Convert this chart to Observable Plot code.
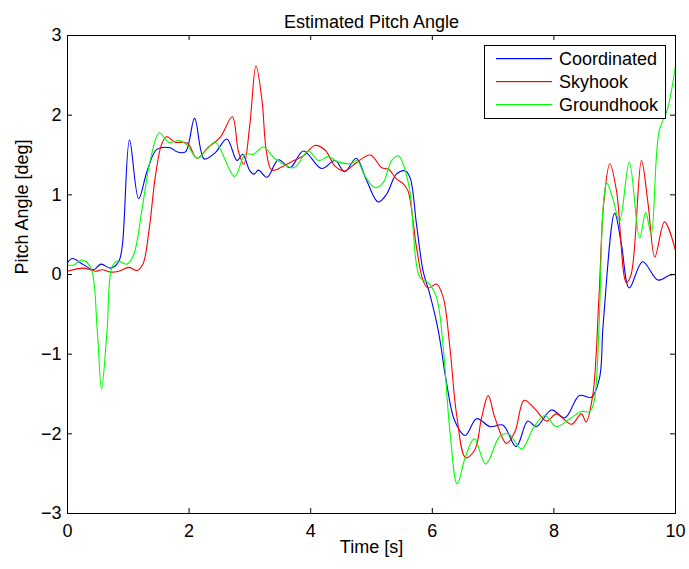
<!DOCTYPE html>
<html><head><meta charset="utf-8">
<script src="https://cdn.jsdelivr.net/npm/d3@7"></script>
<script src="https://cdn.jsdelivr.net/npm/@observablehq/plot@0.6"></script>
<style>body{margin:0;background:#fff} svg{display:block}</style>
</head><body><div id="chart"></div>
<script>
const chartTitle = "Estimated Pitch Angle";
const xLabel = "Time [s]";
const yLabel = "Pitch Angle [deg]";
const seriesNames = ["Coordinated", "Skyhook", "Groundhook"];
const seriesColors = ["#0000ff", "#ff0000", "#00ff00"];
const xTicks = [0, 2, 4, 6, 8, 10];
const yTicks = [-3, -2, -1, 0, 1, 2, 3];

const coordinatedT = [0,0.08,0.25,0.43,0.55,0.71,0.84,0.90,1.02,1.17,1.31,1.47,1.69,1.80,1.94,2.09,2.25,2.43,2.62,2.79,2.88,3.0,3.07,3.14,3.28,3.47,3.66,3.88,4.18,4.40,4.56,4.75,4.92,5.11,5.25,5.41,5.56,5.64,5.74,5.85,5.96,6.10,6.23,6.37,6.54,6.73,6.95,7.16,7.38,7.57,7.71,7.96,8.18,8.42,8.62,8.75,8.81,9.00,9.11,9.24,9.46,9.71,9.90,10];
const coordinatedV = [0.15,0.20,0.13,0.06,0.13,0.08,0.16,0.35,1.69,0.95,1.30,1.57,1.59,1.54,1.54,1.96,1.45,1.53,1.70,1.43,1.51,1.30,1.26,1.31,1.22,1.44,1.34,1.55,1.33,1.43,1.29,1.46,1.18,0.91,1.01,1.26,1.30,1.20,0.63,0.04,-0.25,-0.71,-1.34,-1.84,-2.02,-1.81,-1.91,-1.89,-2.16,-1.84,-1.91,-1.70,-1.80,-1.52,-1.54,-1.30,-0.63,0.77,0.38,-0.17,0.16,-0.07,-0.01,0.0];

const skyhookT = [0,0.27,0.46,0.57,0.71,0.84,1.01,1.14,1.24,1.34,1.45,1.55,1.63,1.77,1.97,2.13,2.32,2.51,2.71,2.81,2.90,3.00,3.10,3.20,3.27,3.36,3.55,3.72,3.88,4.07,4.24,4.40,4.56,4.76,4.98,5.17,5.28,5.41,5.52,5.60,5.74,5.85,5.93,6.07,6.18,6.29,6.40,6.55,6.70,6.81,6.92,7.03,7.22,7.36,7.51,7.68,7.88,8.04,8.29,8.45,8.53,8.64,8.74,8.82,8.92,9.03,9.19,9.27,9.44,9.55,9.66,9.82,10];
const skyhookV = [0.04,0.08,0.04,0.06,0.03,0.04,0.09,0.05,0.13,0.55,1.26,1.64,1.73,1.66,1.65,1.46,1.60,1.72,1.98,1.55,1.38,1.89,2.62,2.18,1.55,1.31,1.36,1.43,1.49,1.62,1.56,1.36,1.30,1.41,1.50,1.34,1.32,1.20,1.14,1.05,0.34,-0.08,-0.17,-0.12,-0.29,-0.92,-1.76,-2.30,-2.20,-1.80,-1.52,-1.80,-2.12,-1.97,-1.58,-1.68,-1.84,-1.75,-1.88,-1.75,-1.85,-1.51,-0.30,0.90,1.39,1.05,-0.10,0.0,1.43,0.88,0.22,0.66,0.30];

const groundhookT = [0,0.10,0.24,0.38,0.49,0.56,0.65,0.73,0.82,0.98,1.09,1.23,1.36,1.51,1.66,1.84,1.97,2.13,2.29,2.43,2.75,2.92,3.06,3.22,3.42,3.72,3.96,4.13,4.29,4.43,4.65,4.76,4.89,5.06,5.19,5.33,5.44,5.52,5.63,5.80,5.93,6.07,6.18,6.29,6.41,6.54,6.69,6.88,7.11,7.25,7.47,7.66,7.85,8.04,8.26,8.45,8.59,8.66,8.74,8.81,8.87,8.97,9.08,9.24,9.41,9.51,9.60,9.73,9.87,10];
const groundhookV = [0.12,0.12,0.18,0.09,-0.71,-1.44,-0.71,0.09,0.17,0.13,0.25,0.84,1.43,1.78,1.66,1.68,1.62,1.46,1.57,1.66,1.23,1.51,1.51,1.60,1.45,1.34,1.55,1.43,1.48,1.42,1.39,1.43,1.24,1.09,1.15,1.43,1.49,1.39,1.05,-0.04,-0.10,-0.29,-0.92,-1.97,-2.63,-2.30,-2.06,-2.38,-2.03,-2.00,-2.19,-1.93,-1.77,-1.91,-1.81,-1.72,-1.72,-1.60,-0.70,0.84,1.15,0.95,0.67,1.41,0.46,0.78,0.51,1.80,2.08,2.62];

const seriesT = [coordinatedT, skyhookT, groundhookT];
const seriesV = [coordinatedV, skyhookV, groundhookV];
const data = seriesNames.flatMap((name, i) => seriesT[i].map((t, j) => ({series: name, t, v: seriesV[i][j]})));

const W = 689, H = 569, mt = 35, mb = 56, ml = 67, mr = 14;
const fh = H - mt - mb, fw = W - ml - mr;
const font = "'Liberation Sans', Arial, Helvetica, sans-serif";
const fmt = d => d < 0 ? "\u2212" + Math.abs(d) : String(d);

const plot = Plot.plot({
  width: W, height: H,
  marginTop: mt, marginBottom: mb, marginLeft: ml, marginRight: mr,
  style: {fontFamily: font, fontSize: "18px", color: "#000", background: "#fff", overflow: "visible"},
  x: {domain: [0, 10], label: null},
  y: {domain: [-3, 3], label: null},
  color: {domain: seriesNames, range: seriesColors},
  marks: [
    Plot.line(data, {x: "t", y: "v", z: "series", stroke: "series", strokeWidth: 1.1, curve: "catmull-rom"}),
    Plot.frame({stroke: "#000", strokeWidth: 1}),
    Plot.tickX(xTicks, {x: d => d, insetTop: fh - 5, stroke: "#000"}),
    Plot.tickX(xTicks, {x: d => d, insetBottom: fh - 5, stroke: "#000"}),
    Plot.tickY(yTicks, {y: d => d, insetRight: fw - 5, stroke: "#000"}),
    Plot.tickY(yTicks, {y: d => d, insetLeft: fw - 5, stroke: "#000"}),
    Plot.axisX(xTicks, {tickSize: 0, tickPadding: 11, fontSize: 18, tickFormat: fmt}),
    Plot.axisY(yTicks, {tickSize: 0, tickPadding: 6, fontSize: 18, tickFormat: fmt}),
    Plot.text([chartTitle], {frameAnchor: "top", dy: -20, text: d => d, fontSize: 18}),
    Plot.text([xLabel], {frameAnchor: "bottom", dy: 39, text: d => d, fontSize: 18}),
    Plot.text([yLabel], {frameAnchor: "left", dx: -45, rotate: -90, text: d => d, fontSize: 18})
  ]
});
document.getElementById("chart").appendChild(plot);

// legend (MATLAB style box, upper right inside axes)
const svg = d3.select(plot);
const lg = svg.append("g").attr("font-family", font).attr("font-size", 18).attr("text-anchor", "start");
lg.append("rect").attr("x", 484.5).attr("y", 45.5).attr("width", 181).attr("height", 73)
  .attr("fill", "#fff").attr("stroke", "#000").attr("stroke-width", 1);
seriesNames.forEach((name, i) => {
  const y = 58 + i * 23;
  lg.append("rect").attr("x", 496).attr("width", 56).attr("y", y).attr("height", 1.2)
    .attr("fill", seriesColors[i]).attr("stroke", "none");
  lg.append("text").attr("x", 559).attr("y", y + 7).attr("fill", "#000").attr("text-anchor", "start").text(name);
});
</script></body></html>
